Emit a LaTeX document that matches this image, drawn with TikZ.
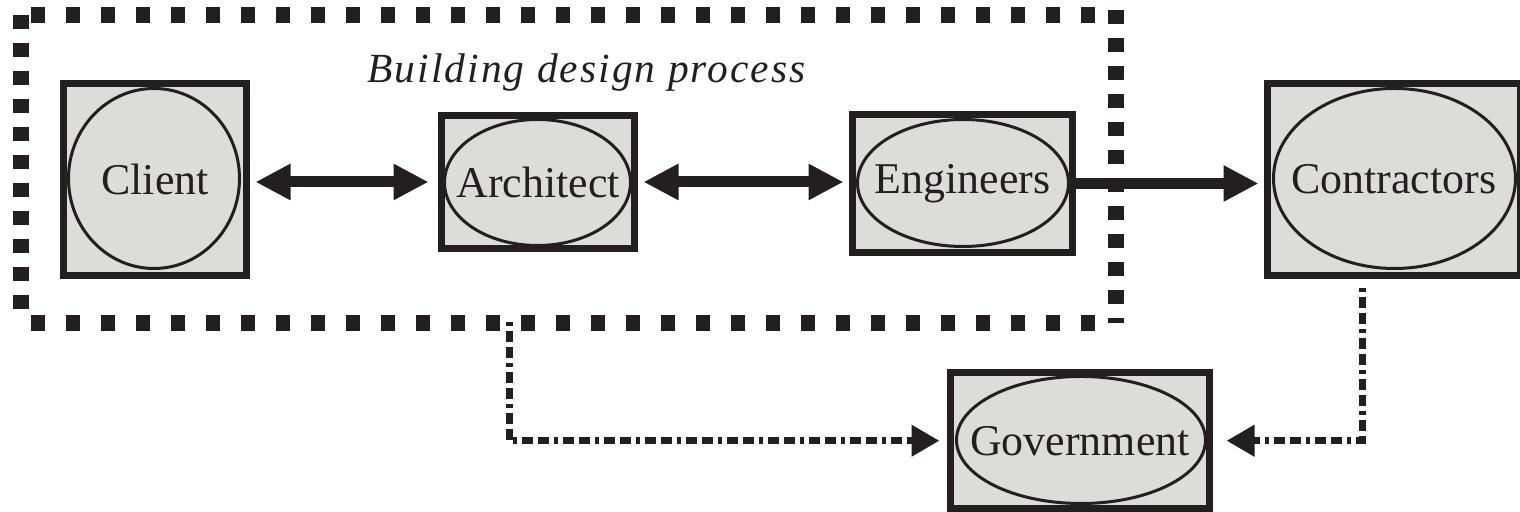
\documentclass[tikz,border=0pt]{standalone}
\usepackage{fontspec}
\setmainfont{Liberation Serif}
\newfontfamily\titlefont{Liberation Serif}[LetterSpace=5]
\usepackage{xcolor}
\usetikzlibrary{shapes.geometric,arrows.meta,positioning,calc}
\definecolor{inkdark}{HTML}{231F20}
\definecolor{boxgray}{HTML}{DCDCDB}

\begin{document}
\begin{tikzpicture}[
    actorbox/.style={rectangle, draw=inkdark, fill=boxgray, line width=0.07cm, inner sep=0pt, text=inkdark, font=\fontsize{12.5}{14}\selectfont},
    actoroval/.style={ellipse, draw=inkdark, line width=0.03cm, inner sep=0pt},
    flow/.style={draw=inkdark, line width=0.11cm, >={Triangle[length=3.5mm,width=3.4mm]}},
    report/.style={draw=inkdark, line width=0.07cm, dash pattern=on 0.04cm off 0.05cm on 0.11cm off 0.05cm on 0.11cm off 0.05cm, >={Triangle[length=2.8mm,width=3mm]}},
    sidedash/.style={draw=inkdark, line width=0.16cm, dash pattern=on 0.14cm off 0.14cm},
    longdash/.style={draw=inkdark, line width=0.16cm, dash pattern=on 0.14cm off 0.21cm}
]
\useasboundingbox (0,0) rectangle (15.2,-5.12);

% Design process frame
\node[minimum width=10.93cm, minimum height=3.06cm, inner sep=0pt] (frame) at (5.685,-1.69) {};
\draw[longdash] ([xshift=0.1cm]frame.north west) -- (frame.north east);
\draw[longdash] ([xshift=0.1cm]frame.south west) -- (frame.south east);
\draw[sidedash] (frame.north west) -- (frame.south west);
\draw[sidedash] ([yshift=0.05cm]frame.north east) -- (frame.south east);
\node[text=inkdark, font=\titlefont\itshape\fontsize{11.8}{13}\selectfont] (title) at (5.865,-0.73) {Building design process};

% Actors (box with oval inside)
\node[actorbox, minimum width=1.83cm, minimum height=1.92cm] (client) at (1.55,-1.795) {Client};
\node[actoroval, minimum width=1.71cm, minimum height=1.80cm] (clientoval) at (1.54,-1.785) {};

\node[actorbox, minimum width=1.93cm, minimum height=1.33cm] (architect) at (5.38,-1.82) {Architect};
\node[actoroval, minimum width=1.86cm, minimum height=1.26cm] (architectoval) at (5.375,-1.825) {};

\node[actorbox, minimum width=2.20cm, minimum height=1.38cm] (engineers) at (9.625,-1.835) {Engineers};
\node[actoroval, minimum width=2.11cm, minimum height=1.27cm] (engineersoval) at (9.63,-1.83) {};

\node[actorbox, minimum width=2.525cm, minimum height=1.92cm] (contractors) at (13.9375,-1.795) {Contractors};
\node[actoroval, minimum width=2.42cm, minimum height=1.80cm] (contractorsoval) at (13.945,-1.785) {};

\node[actorbox, minimum width=2.59cm, minimum height=1.365cm] (government) at (10.80,-4.4075) {Government};
\node[actoroval, minimum width=2.49cm, minimum height=1.27cm] (governmentoval) at (10.81,-4.40) {};

% Main flow
\draw[flow, <->, shorten <=0.055cm, shorten >=0.095cm] (architect.west -| client.east) -- (architect.west);
\draw[flow, <->, shorten <=0.055cm, shorten >=0.055cm] (architect.east) -- (architect.east -| engineers.west);
\draw[flow, ->, shorten >=0.055cm] (engineers.east) -- (engineers.east -| contractors.west);

% Approvals
\coordinate (frametap) at (5.09,-3.22);
\draw[report, ->, shorten >=0.075cm] (frametap) |- (government.west);
\draw[report, ->, shorten <=0.09cm, shorten >=0.135cm] ([xshift=-0.315cm]contractors.south) |- (government.east);

\end{tikzpicture}
\end{document}
